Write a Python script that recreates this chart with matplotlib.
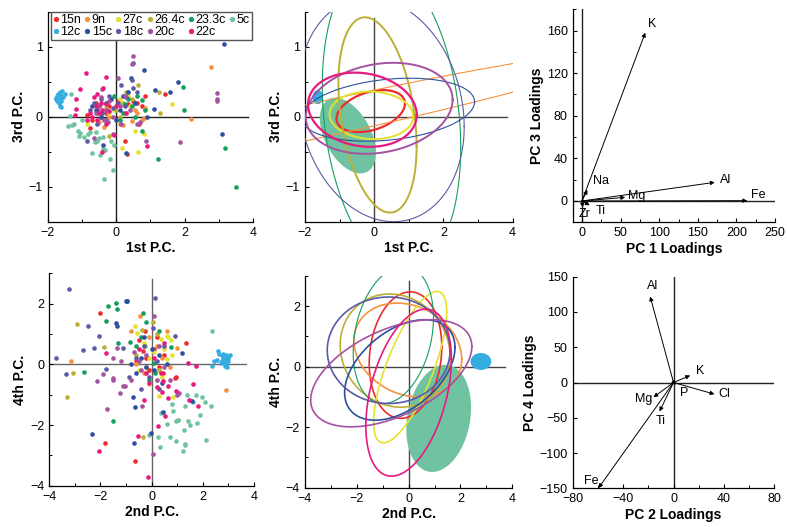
import matplotlib
matplotlib.use("Agg")
import matplotlib.pyplot as plt
import numpy as np
from matplotlib.lines import Line2D
from matplotlib.ticker import MultipleLocator

plt.rcParams["font.family"] = ["Liberation Sans", "DejaVu Sans"]

GROUPS = ["15n", "9n", "27c", "26.4c", "23.3c", "5c", "12c", "15c", "18c", "20c", "22c"]
COLORS = ["#ee2b2b", "#f5923e", "#e4e22e", "#bcb034", "#12a05a", "#6fc3a0",
          "#35ade2", "#2d4fa0", "#5a5aa8", "#a552a2", "#e8197f"]
FILLED = ["5c", "12c"]

# ---- scores, 1st vs 3rd P.C. ----
PC13_15N = [(-0.76, -0.16), (-0.7, -0.05), (-0.55, 0.1), (-0.3, 0.05), (-0.2, 0.15), (0.05, 0.22),
            (0.26, -0.34), (0.68, -0.1), (1.43, 0.32), (0.35, 0.18), (-0.45, 0.0), (0.33, -0.53),
            (0.6, 0.2), (-0.85, 0.02), (0.75, 0.16), (-0.6, 0.2), (0.5, 0.22), (0.85, 0.3)]
PC13_9N = [(2.76, 0.71), (2.18, -0.03), (0.75, -0.05), (0.21, -0.12), (0.1, -0.1), (-0.35, -0.15),
           (0.55, 0.1), (-0.2, 0.0), (0.8, -0.02), (0.25, 0.05), (-0.5, -0.08), (0.45, -0.06),
           (0.62, 0.05), (0.85, 0.12)]
PC13_27C = [(1.62, 0.18), (0.17, -0.45), (0.65, -0.51), (-0.85, -0.1), (0.3, 0.05), (0.4, 0.15),
            (-0.05, 0.1), (0.35, 0.3), (-0.4, 0.2), (0.55, -0.2), (0.1, 0.25), (-0.2, 0.05),
            (0.8, -0.25)]
PC13_264C = [(1.26, 0.36), (-0.21, -0.28), (0.65, 0.46), (1.28, 0.06), (0.0, 0.1), (-0.3, 0.12),
             (0.2, 0.2), (0.45, 0.25), (-0.55, 0.05), (0.1, 0.0), (0.3, 0.35)]
PC13_233C = [(3.5, -1.01), (3.17, -0.45), (1.94, 0.42), (1.97, 0.09), (1.21, -0.6), (0.75, -0.2),
             (0.83, 0.09), (0.75, 0.24), (0.45, 0.15), (0.2, 0.05), (0.35, 0.25), (-0.05, 0.3),
             (0.6, 0.3), (0.1, -0.05), (0.55, 0.0), (0.25, 0.18)]
PC13_5C = [(-1.34, 0.01), (-1.24, -0.11), (-1.29, -0.12), (-1.0, -0.05), (-1.1, -0.2), (-1.08, -0.28),
           (-1.05, -0.23), (-0.93, -0.29), (-0.83, -0.25), (-0.76, -0.22), (-0.71, -0.52),
           (-0.56, -0.34), (-0.39, -0.29), (-0.39, -0.46), (-0.32, -0.48), (-0.47, -0.54),
           (-0.35, -0.89), (-0.17, -0.6), (-0.1, -0.76), (-0.05, -0.41), (-0.6, -0.22),
           (-0.62, -0.36), (-1.32, 0.32), (-1.42, -0.13), (-0.5, -0.3), (-0.15, -0.35)]
PC13_12C = [(-1.75, 0.25), (-1.7, 0.3), (-1.65, 0.35), (-1.6, 0.3), (-1.72, 0.22), (-1.68, 0.2),
            (-1.62, 0.23), (-1.7, 0.33), (-1.77, 0.27), (-1.55, 0.28), (-1.64, 0.15), (-1.58, 0.37),
            (-1.5, 0.32), (-1.6, 0.14), (-1.6, 0.27), (-1.67, 0.28), (-1.73, 0.3), (-1.63, 0.31)]
PC13_15C = [(3.15, 1.04), (3.08, -0.24), (0.8, 0.67), (0.43, 0.56), (1.14, 0.38), (1.57, 0.35),
            (1.82, 0.49), (0.29, -0.52), (-0.39, -0.4), (1.12, 0.11), (0.89, -0.01), (-0.6, 0.1),
            (-0.3, 0.2), (0.0, -0.05), (-0.45, 0.0), (0.2, 0.3), (-0.7, 0.15), (0.1, 0.1),
            (0.35, 0.35), (-0.15, 0.25), (0.55, 0.2)]
PC13_18C = [(0.49, 0.77), (0.5, 0.41), (0.15, 0.45), (0.45, 0.52), (-0.65, 0.2), (-0.5, 0.15),
            (-0.4, 0.05), (-0.2, 0.3), (0.05, 0.2), (-0.75, 0.1), (0.3, 0.28), (-0.3, -0.05),
            (-0.55, -0.1), (0.6, 0.35), (-0.1, 0.12), (-0.85, -0.35), (-0.45, 0.25), (0.25, 0.15)]
PC13_20C = [(2.95, 0.34), (2.95, 0.26), (2.95, 0.22), (1.86, -0.36), (0.86, -0.35), (0.5, 0.87),
            (0.45, 0.76), (0.05, 0.55), (-0.4, 0.4), (-0.5, 0.15), (-0.3, 0.1), (-0.2, 0.22),
            (-0.1, 0.0), (0.1, 0.15), (-0.6, 0.05), (-0.35, -0.05), (0.25, 0.3), (0.6, -0.1),
            (-0.25, -0.08), (-0.45, 0.28), (0.4, 0.1), (-0.65, -0.3), (-0.1, -0.25), (0.7, -0.08),
            (0.15, -0.1)]
PC13_22C = [(-0.87, 0.63), (-0.29, 0.57), (-1.05, 0.4), (-1.18, 0.25), (-1.17, 0.11), (-1.19, 0.02),
            (0.89, -0.42), (-0.42, -0.51), (-0.06, -0.26), (-0.56, 0.33), (-0.37, 0.41),
            (-0.76, 0.06), (-0.6, 0.15), (-0.5, 0.05), (-0.3, 0.18), (-0.7, 0.0), (-0.4, 0.1),
            (-0.2, 0.08), (0.0, 0.15), (-0.55, -0.05), (-0.85, -0.05), (-0.45, 0.2), (-0.65, 0.28),
            (-0.3, -0.1), (0.3, 0.05)]

# ---- scores, 2nd vs 4th P.C. ----
PC24_15N = [(-2.0, 1.69), (-1.83, -2.59), (-0.66, -3.18), (1.35, 0.72), (0.97, -0.41), (0.93, -0.46),
            (-0.25, 1.11), (-0.5, 0.8), (-0.2, 0.2), (0.1, 0.5), (0.3, -0.1), (-0.35, 0.45),
            (0.5, 0.3), (-0.1, -0.2), (0.2, 0.9), (-0.6, 0.1), (0.45, -0.3)]
PC24_9N = [(-3.15, 0.11), (2.9, -0.83), (0.99, 0.53), (-0.82, 1.1), (-0.47, 1.58), (-0.3, -0.3),
           (0.6, 1.1), (0.2, 0.6), (-0.1, 0.9), (0.4, 0.2), (-0.6, 0.0), (0.7, -0.1),
           (-0.2, -0.1), (0.3, -0.2)]
PC24_27C = [(0.65, 0.91), (0.74, 0.8), (0.6, 0.95), (0.35, 0.85), (0.27, -1.05), (0.84, -1.09),
            (-0.09, -0.65), (0.59, 0.17), (-0.66, 1.25), (-0.56, 1.05), (0.5, 0.5), (0.1, 0.4),
            (-0.3, 0.7), (0.2, -0.5), (-0.1, 0.2), (0.4, -0.4), (-0.5, -0.2), (0.8, 0.3)]
PC24_264C = [(-2.92, 1.32), (-3.3, -1.07), (-3.08, -0.28), (-1.85, 0.56), (-0.34, -2.41),
             (1.03, -1.82), (-0.38, 1.15), (0.05, 1.4), (-0.6, 0.3), (0.2, 1.0), (-0.25, 0.6),
             (0.3, -0.2)]
PC24_233C = [(-1.72, 1.93), (-1.4, 2.04), (-1.34, 1.82), (-1.77, 1.43), (-2.64, -0.24),
             (-1.52, -1.87), (-0.32, 1.69), (-0.85, 0.75), (-1.32, 0.69), (0.74, 0.56),
             (-0.95, 2.1), (-0.2, 1.4), (0.3, 1.1), (-0.1, -0.5), (0.1, 0.05), (-0.4, 0.9),
             (0.15, -0.3), (-0.6, 0.6)]
PC24_5C = [(2.37, 1.1), (1.4, -1.01), (1.72, -1.01), (1.95, -1.07), (2.08, -1.23), (2.31, -1.38),
           (1.89, -1.67), (1.76, -1.93), (1.44, -1.87), (1.5, -2.0), (1.25, -2.15), (0.97, -1.86),
           (0.8, -1.32), (0.83, -1.53), (0.61, -1.95), (0.36, -1.6), (0.23, -2.39), (0.33, -2.72),
           (0.7, -2.39), (0.96, -2.52), (1.29, -2.61), (1.3, -2.67), (1.22, -2.85), (2.11, -2.48),
           (1.31, -1.38), (1.6, -1.25), (1.5, -1.16), (-0.09, -2.34), (1.05, -1.85)]
PC24_12C = [(2.6, 0.45), (2.65, 0.35), (2.75, 0.3), (2.8, 0.2), (2.9, 0.15), (2.95, 0.25),
            (3.0, 0.1), (2.85, 0.05), (2.75, 0.1), (2.9, 0.3), (3.0, 0.2), (2.55, 0.15),
            (2.45, 0.1), (2.35, -0.05), (2.95, -0.1), (2.85, -0.05), (2.7, 0.05), (3.05, 0.3),
            (2.8, 0.35), (2.9, 0.0)]
PC24_15C = [(-2.32, -2.31), (-0.69, -2.58), (-0.03, -2.26), (-0.66, -1.4), (-0.73, -1.09),
            (0.46, -1.56), (-1.02, 2.1), (-0.95, 2.1), (-1.4, 1.35), (-1.36, 1.25), (1.18, 0.39),
            (1.57, -1.21), (-0.4, 0.2), (0.0, 0.5), (-0.2, -0.1), (0.3, 0.3), (-0.6, -0.3),
            (0.1, -0.2), (-0.3, 0.9), (0.4, -0.6), (-0.8, 0.0), (0.6, 0.0)]
PC24_18C = [(-3.21, 2.49), (0.14, 2.18), (-3.72, 0.21), (-3.36, -0.33), (-2.47, 1.27), (-2.06, 0.94),
            (-2.68, 0.47), (-2.25, 0.53), (-1.8, -0.15), (-1.1, 0.55), (-0.6, 0.2), (-0.3, 0.6),
            (0.2, 0.1), (-0.1, -0.4), (0.5, 0.6), (-0.9, -0.4), (0.3, -0.8), (0.9, 0.95),
            (-0.4, -0.8), (0.05, 1.2)]
PC24_20C = [(-1.75, -1.48), (-1.89, -0.32), (-2.15, -0.55), (-1.49, -0.46), (-1.49, -0.5),
            (-1.24, -0.96), (-1.11, -0.72), (-1.05, -0.7), (-0.38, -1.37), (0.04, -2.94),
            (1.06, -0.96), (1.0, -1.0), (-1.34, 0.53), (-0.82, -0.5), (-0.5, 0.1), (0.1, 1.6),
            (-0.2, 0.3), (0.5, -0.1), (0.2, -0.5), (-0.7, 0.4), (0.3, 0.6), (-1.2, 0.1),
            (0.7, -0.5), (-0.4, -0.2), (-1.5, 0.2)]
PC24_22C = [(-2.04, -2.85), (-0.54, -2.37), (-0.15, -3.71), (0.25, -2.04), (0.52, -1.71),
            (0.65, -1.1), (0.97, -0.88), (1.48, -1.18), (1.82, -1.38), (1.6, -0.66), (1.72, -0.06),
            (1.44, 0.06), (0.46, -0.54), (0.65, -0.72), (-1.77, 0.39), (-0.31, -1.16),
            (0.2, -0.75), (0.35, -0.3), (-0.2, -0.3), (0.1, 0.2), (-0.5, 0.5), (0.5, 0.7),
            (0.4, -0.9), (-0.1, -0.6)]

# ---- group ellipses: (x centre, x half-range, y centre, y half-range, correlation) ----
ELL13 = [(-0.1, 0.99, 0.08, 0.3, 0.36), (-1.5, 9.0, -0.036, 1.0, 0.966),
         (-0.08, 1.21, 0.02, 0.34, -0.05), (0.095, 1.13, 0.025, 1.395, -0.32),
         (0.5, 2.0, 0.0, 2.2, -0.2), (-0.76, 0.81, -0.27, 0.54, -0.45),
         (-1.63, 0.155, 0.28, 0.1, 0.0), (0.4, 2.5, 0.1, 0.45, 0.25),
         (0.2, 2.4, 0.1, 1.6, -0.15), (0.145, 2.12, 0.12, 0.65, 0.19),
         (-0.34, 1.57, 0.1, 0.53, -0.14)]
ELL24 = [(-0.12, 1.4, 0.38, 2.09, 0.13), (-0.03, 2.08, 0.55, 1.55, -0.2),
         (0.06, 1.41, -0.015, 2.5, 0.73), (-0.52, 2.12, 0.53, 1.87, -0.1),
         (-0.59, 1.55, 1.05, 2.27, 0.25), (1.16, 1.25, -1.71, 1.77, 0.2),
         (2.79, 0.4, 0.17, 0.28, 0.0), (-0.34, 2.13, -0.11, 1.66, 0.45),
         (-0.77, 2.37, 0.54, 1.76, 0.0), (-0.67, 3.11, -0.22, 1.77, 0.5),
         (0.0, 1.65, -0.86, 2.76, 0.4)]
ELL13_LW = [1.6, 0.8, 1.4, 1.4, 0.8, 0, 0, 0.8, 0.8, 1.4, 1.6]
ELL24_LW = [1.2, 1.2, 1.2, 1.2, 0.8, 0, 0, 1.2, 1.2, 1.2, 1.2]

# ---- loadings ----
LOAD13_NAMES = ["K", "Al", "Fe", "Mg", "Na", "Zr", "Ti"]
LOAD13_PC1 = [82, 172, 214, 56, 7, 1, 10]
LOAD13_PC3 = [158, 17.5, 0.3, 3.4, 10.5, -6, -4]
LOAD24_NAMES = ["Al", "K", "Cl", "Mg", "Ti", "P", "Fe"]
LOAD24_PC2 = [-18.5, 13.2, 32.5, -15.9, -11.1, 2, -59.5]
LOAD24_PC4 = [121.8, 10, -16.5, -20.8, -41, -3, -149.6]

# label offsets (points) and alignment for the loading names
OFF13 = [((5, 6), "center"), ((4, 2), "left"), ((3, 4), "left"), ((2, 1), "left"),
         ((4, 6), "left"), ((1, -5), "center"), ((4, -4), "left")]
OFF24 = [((2, 8), "center"), ((4, 3), "left"), ((3, 0), "left"), ((-1, -1), "right"),
         ((1, -7), "center"), ((3, -6), "left"), ((0, 5), "right")]

TICK_FS = 9
LABEL_FS = 10


def ellipse_xy(cx, sx, cy, sy, rho, n=300):
    t = np.linspace(0, 2 * np.pi, n)
    x = cx + sx * np.cos(t)
    y = cy + sy * (rho * np.cos(t) + np.sqrt(1 - rho ** 2) * np.sin(t))
    return x, y


def style_axes(ax, xlabel, ylabel, xmaj, xmin, ymaj, ymin):
    for s in ["top", "right"]:
        ax.spines[s].set_visible(False)
    for s in ["left", "bottom"]:
        ax.spines[s].set_linewidth(0.9)
    ax.xaxis.set_major_locator(MultipleLocator(xmaj))
    ax.yaxis.set_major_locator(MultipleLocator(ymaj))
    if xmin:
        ax.xaxis.set_minor_locator(MultipleLocator(xmin))
    if ymin:
        ax.yaxis.set_minor_locator(MultipleLocator(ymin))
    ax.tick_params(which="major", direction="in", length=3, width=0.8, labelsize=TICK_FS)
    ax.tick_params(which="minor", direction="in", length=2, width=0.7)
    ax.set_xlabel(xlabel, fontsize=LABEL_FS, fontweight="bold", labelpad=2)
    ax.set_ylabel(ylabel, fontsize=LABEL_FS, fontweight="bold", labelpad=2)


def cross(ax, xr, yr, color="#333333"):
    ax.plot(xr, [0, 0], color=color, lw=1.0, zorder=1)
    ax.plot([0, 0], yr, color=color, lw=1.0, zorder=1)


def main():
    fig = plt.figure(figsize=(7.87, 5.27), dpi=100)
    ax1 = fig.add_axes([0.0606, 0.5793, 0.2609, 0.3985])
    ax2 = fig.add_axes([0.3875, 0.5793, 0.2639, 0.3985])
    ax3 = fig.add_axes([0.7277, 0.5782, 0.2571, 0.4042])
    ax4 = fig.add_axes([0.0626, 0.0784, 0.2601, 0.4028])
    ax5 = fig.add_axes([0.3875, 0.0746, 0.2634, 0.4020])
    ax6 = fig.add_axes([0.7277, 0.0734, 0.2562, 0.4015])

    pc13 = [PC13_15N, PC13_9N, PC13_27C, PC13_264C, PC13_233C, PC13_5C,
            PC13_12C, PC13_15C, PC13_18C, PC13_20C, PC13_22C]
    pc24 = [PC24_15N, PC24_9N, PC24_27C, PC24_264C, PC24_233C, PC24_5C,
            PC24_12C, PC24_15C, PC24_18C, PC24_20C, PC24_22C]

    # scatter panels
    cross(ax1, [-2, 3.85], [-1.5, 1.5], "#222222")
    cross(ax4, [-4, 3.7], [-4, 2.8], "#666666")
    for pts13, pts24, c in zip(pc13, pc24, COLORS):
        a = np.array(pts13)
        b = np.array(pts24)
        ax1.scatter(a[:, 0], a[:, 1], s=11, color=c, linewidths=0, zorder=3)
        ax4.scatter(b[:, 0], b[:, 1], s=11, color=c, linewidths=0, zorder=3)

    # ellipse panels
    cross(ax2, [-2, 3.84], [-1.5, 1.41], "#444444")
    cross(ax5, [-4, 3.72], [-4, 2.82], "#444444")
    for name, c, e13, e24, lw13, lw24 in zip(GROUPS, COLORS, ELL13, ELL24, ELL13_LW, ELL24_LW):
        x13, y13 = ellipse_xy(*e13)
        x24, y24 = ellipse_xy(*e24)
        if name in FILLED:
            ax2.fill(x13, y13, color=c, lw=0, zorder=2)
            ax5.fill(x24, y24, color=c, lw=0, zorder=2)
        else:
            ax2.plot(x13, y13, color=c, lw=lw13, zorder=3)
            ax5.plot(x24, y24, color=c, lw=lw24, zorder=3)

    # loading panels
    cross(ax3, [-12, 250], [-20, 180], "#222222")
    cross(ax6, [-80, 80], [-150, 150], "#222222")
    arrow = dict(arrowstyle="-|>", lw=0.7, color="black", mutation_scale=6,
                 shrinkA=0, shrinkB=0)
    for name, x, y, (off, ha) in zip(LOAD13_NAMES, LOAD13_PC1, LOAD13_PC3, OFF13):
        ax3.annotate("", xy=(x, y), xytext=(0, 0), arrowprops=arrow, zorder=3)
        ax3.annotate(name, xy=(x, y), xytext=off, textcoords="offset points",
                     ha=ha, va="center", fontsize=TICK_FS)
    for name, x, y, (off, ha) in zip(LOAD24_NAMES, LOAD24_PC2, LOAD24_PC4, OFF24):
        ax6.annotate("", xy=(x, y), xytext=(0, 0), arrowprops=arrow, zorder=3)
        ax6.annotate(name, xy=(x, y), xytext=off, textcoords="offset points",
                     ha=ha, va="center", fontsize=TICK_FS)

    for ax in (ax1, ax2):
        ax.set_xlim(-2, 4)
        ax.set_ylim(-1.5, 1.5)
        style_axes(ax, "1st P.C.", "3rd P.C.", 2, 1, 1, 0.5)
    for ax in (ax4, ax5):
        ax.set_xlim(-4, 4)
        ax.set_ylim(-4, 3)
        style_axes(ax, "2nd P.C.", "4th P.C.", 2, 1, 2, 1)
    ax3.set_xlim(-12, 250)
    ax3.set_ylim(-20, 180)
    style_axes(ax3, "PC 1 Loadings", "PC 3 Loadings", 50, 25, 40, 20)
    ax6.set_xlim(-80, 80)
    ax6.set_ylim(-150, 150)
    style_axes(ax6, "PC 2 Loadings", "PC 4 Loadings", 40, 20, 50, None)

    # legend: row-wise order in a column-filled legend
    handles = {g: Line2D([], [], marker="o", ls="none", color=c, markersize=3.8,
                         markeredgewidth=0) for g, c in zip(GROUPS, COLORS)}
    order = ["15n", "12c", "9n", "15c", "27c", "18c", "26.4c", "20c", "23.3c", "22c", "5c"]
    leg = ax1.legend([handles[g] for g in order], order, ncol=6, loc="upper left",
                     bbox_to_anchor=(0.016, 0.997), fontsize=9, handlelength=0.45,
                     handletextpad=0.12, columnspacing=0.3, labelspacing=0.0,
                     borderpad=0.15, borderaxespad=0, fancybox=False, framealpha=1)
    leg.get_frame().set_edgecolor("#555555")
    leg.get_frame().set_linewidth(1.0)
    leg.set_zorder(5)

    fig.savefig("out.png", dpi=100)


if __name__ == "__main__":
    main()
